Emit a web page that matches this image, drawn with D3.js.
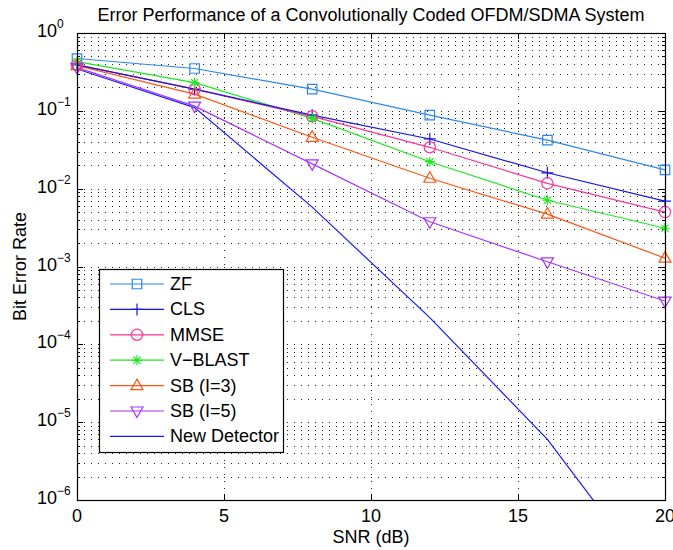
<!DOCTYPE html>
<html>
	<head>
		<title>BER - OFDM/SDMA</title>
		<script src="https://d3js.org/d3.v7.min.js"></script>
		<style>
			body { margin: 0; background: #fff; }
			text { font-family: "Liberation Sans", Arial, sans-serif; fill: #000; }
			.grid line { stroke: #222; stroke-width: 1; stroke-dasharray: 1,6; }
			.tick-mark { stroke: #000; stroke-width: 1; }
		</style>
	</head>
	<body>
		<svg width="673" height="550"></svg>
		<script type="text/javascript">
			// data
			var snr = [0, 4, 8, 12, 16, 20];
			var zf = [0.47, 0.35, 0.19, 0.088, 0.042, 0.0174];
			var cls = [0.39, 0.19, 0.088, 0.0435, 0.016, 0.0069];
			var mmse = [0.39, 0.19, 0.085, 0.034, 0.0117, 0.0050];
			var vblast = [0.43, 0.23, 0.080, 0.0222, 0.0071, 0.0031];
			var sb3 = [0.38, 0.164, 0.0457, 0.0136, 0.0047, 0.00128];
			var sb5 = [0.36, 0.115, 0.0208, 0.00376, 0.00115, 0.00036];
			var newDet = [0.345, 0.11, 0.0058, 0.00022, 0.000006, 0.00000006];

			var seriesNames = ["ZF", "CLS", "MMSE", "V\u2212BLAST", "SB (I=3)", "SB (I=5)", "New Detector"];
			var xTicks = [0, 5, 10, 15, 20];
			var yTicks = [1, 1e-1, 1e-2, 1e-3, 1e-4, 1e-5, 1e-6];
			var yExponents = ["0", "\u22121", "\u22122", "\u22123", "\u22124", "\u22125", "\u22126"];

			var series = [
				{ name: seriesNames[0], values: zf, color: "#2b86f2", marker: "square" },
				{ name: seriesNames[1], values: cls, color: "#1414e6", marker: "plus" },
				{ name: seriesNames[2], values: mmse, color: "#ff3399", marker: "circle" },
				{ name: seriesNames[3], values: vblast, color: "#1ee81e", marker: "star" },
				{ name: seriesNames[4], values: sb3, color: "#ff5511", marker: "up" },
				{ name: seriesNames[5], values: sb5, color: "#a633ff", marker: "down" },
				{ name: seriesNames[6], values: newDet, color: "#1a1aff", marker: "none" }
			];

			var svg = d3.select("svg"),
			    pLeft = 77, pRight = 665, pTop = 33, pBottom = 500,
			    fontSize = "18px";

			var x = d3.scaleLinear().domain([0, 20]).range([pLeft, pRight]);
			var y = d3.scaleLog().domain([1e-6, 1]).range([pBottom, pTop]);

			// grid
			var grid = svg.append("g").attr("class", "grid");
			grid.selectAll("line.vx")
				.data(xTicks.slice(1, -1))
				.enter().append("line")
				.attr("x1", function(d) { return Math.round(x(d)) + 0.5; })
				.attr("x2", function(d) { return Math.round(x(d)) + 0.5; })
				.attr("y1", pTop).attr("y2", pBottom);

			var yGridVals = [];
			for (var e = -6; e < 0; e++) {
				for (var m = 1; m <= 9; m++) {
					yGridVals.push(m * Math.pow(10, e));
				}
			}
			grid.selectAll("line.hy")
				.data(yGridVals.filter(function(d) { return d > 1.0001e-6; }))
				.enter().append("line")
				.attr("x1", pLeft).attr("x2", pRight)
				.attr("y1", function(d) { return Math.round(y(d)) + 0.5; })
				.attr("y2", function(d) { return Math.round(y(d)) + 0.5; });

			// tick marks (inward on all four sides)
			var ticks = svg.append("g");
			xTicks.forEach(function(t) {
				var px = Math.round(x(t)) + 0.5;
				ticks.append("line").attr("class", "tick-mark")
					.attr("x1", px).attr("x2", px).attr("y1", pBottom).attr("y2", pBottom - 6);
				ticks.append("line").attr("class", "tick-mark")
					.attr("x1", px).attr("x2", px).attr("y1", pTop).attr("y2", pTop + 6);
			});
			yGridVals.concat([1]).forEach(function(v) {
				var py = Math.round(y(v)) + 0.5;
				var major = Math.abs(Math.log10(v) - Math.round(Math.log10(v))) < 1e-6;
				var len = major ? 6 : 3;
				ticks.append("line").attr("class", "tick-mark")
					.attr("x1", pLeft).attr("x2", pLeft + len).attr("y1", py).attr("y2", py);
				ticks.append("line").attr("class", "tick-mark")
					.attr("x1", pRight).attr("x2", pRight - len).attr("y1", py).attr("y2", py);
			});

			// clip for lines
			svg.append("clipPath").attr("id", "plotClip")
				.append("rect").attr("x", pLeft).attr("y", pTop)
				.attr("width", pRight - pLeft).attr("height", pBottom - pTop);

			var line = d3.line()
				.x(function(d, i) { return x(snr[i]); })
				.y(function(d) { return y(d); });

			var plot = svg.append("g").attr("clip-path", "url(#plotClip)");
			plot.selectAll("path.series")
				.data(series.slice().reverse())
				.enter().append("path")
				.attr("d", function(d) { return line(d.values); })
				.attr("fill", "none")
				.attr("stroke", function(d) { return d.color; })
				.attr("stroke-width", 1.2);

			function markerPath(type) {
				if (type == "square") return d3.symbol(d3.symbolSquare, 90)();
				if (type == "circle") return d3.symbol(d3.symbolCircle, 100)();
				if (type == "up") return "M0,-6.5L6,4L-6,4Z";
				if (type == "down") return "M0,6.5L6,-4L-6,-4Z";
				if (type == "plus") return "M-6,0L6,0M0,-6L0,6";
				if (type == "star") return "M-5,0L5,0M0,-5L0,5M-3.6,-3.6L3.6,3.6M-3.6,3.6L3.6,-3.6";
				return null;
			}

			series.forEach(function(s) {
				if (s.marker == "none") return;
				svg.append("g").selectAll("path")
					.data(s.values)
					.enter().append("path")
					.attr("transform", function(d, i) { return "translate(" + x(snr[i]) + "," + y(d) + ")"; })
					.attr("d", markerPath(s.marker))
					.attr("fill", "none")
					.attr("stroke", s.color)
					.attr("stroke-width", 1.2);
			});

			// axes box
			svg.append("rect")
				.attr("x", pLeft + 0.5).attr("y", pTop + 0.5)
				.attr("width", pRight - pLeft).attr("height", pBottom - pTop)
				.attr("fill", "none").attr("stroke", "#000").attr("stroke-width", 1.2);

			// tick labels
			svg.selectAll("text.xt")
				.data(xTicks)
				.enter().append("text")
				.attr("x", function(d) { return x(d); })
				.attr("y", pBottom + 22)
				.attr("text-anchor", "middle")
				.style("font-size", fontSize)
				.text(function(d) { return d; });

			var yl = svg.selectAll("text.yt")
				.data(yTicks)
				.enter().append("text")
				.attr("x", 37)
				.attr("y", function(d) { return y(d) + 4; })
				.style("font-size", fontSize);
			yl.append("tspan").text("10");
			yl.append("tspan")
				.attr("dy", -9)
				.style("font-size", "12px")
				.text(function(d, i) { return yExponents[i]; });

			// labels
			svg.append("text")
				.attr("x", (pLeft + pRight) / 2)
				.attr("y", 21)
				.attr("text-anchor", "middle")
				.style("font-size", fontSize)
				.text("Error Performance of a Convolutionally Coded OFDM/SDMA System");

			svg.append("text")
				.attr("x", (pLeft + pRight) / 2)
				.attr("y", 543)
				.attr("text-anchor", "middle")
				.style("font-size", fontSize)
				.text("SNR (dB)");

			svg.append("text")
				.attr("transform", "translate(26," + ((pTop + pBottom) / 2) + ") rotate(-90)")
				.attr("text-anchor", "middle")
				.style("font-size", fontSize)
				.text("Bit Error Rate");

			// legend
			var legend = svg.append("g");
			legend.append("rect")
				.attr("x", 99.5).attr("y", 269.5)
				.attr("width", 184).attr("height", 183)
				.attr("fill", "#fff").attr("stroke", "#000").attr("stroke-width", 1.2);

			var rows = legend.selectAll("g.row")
				.data(series)
				.enter().append("g")
				.attr("transform", function(d, i) { return "translate(0," + (284 + i * 25.4) + ")"; });
			rows.append("line")
				.attr("x1", 110).attr("x2", 164).attr("y1", 0).attr("y2", 0)
				.attr("stroke", function(d) { return d.color; })
				.attr("stroke-width", 1.2);
			rows.append("path")
				.attr("transform", "translate(137,0)")
				.attr("d", function(d) { return markerPath(d.marker); })
				.attr("fill", "none")
				.attr("stroke", function(d) { return d.color; })
				.attr("stroke-width", 1.2);
			rows.append("text")
				.attr("x", 170)
				.attr("y", 6)
				.style("font-size", fontSize)
				.text(function(d) { return d.name; });
		</script>
</body>
</html>
